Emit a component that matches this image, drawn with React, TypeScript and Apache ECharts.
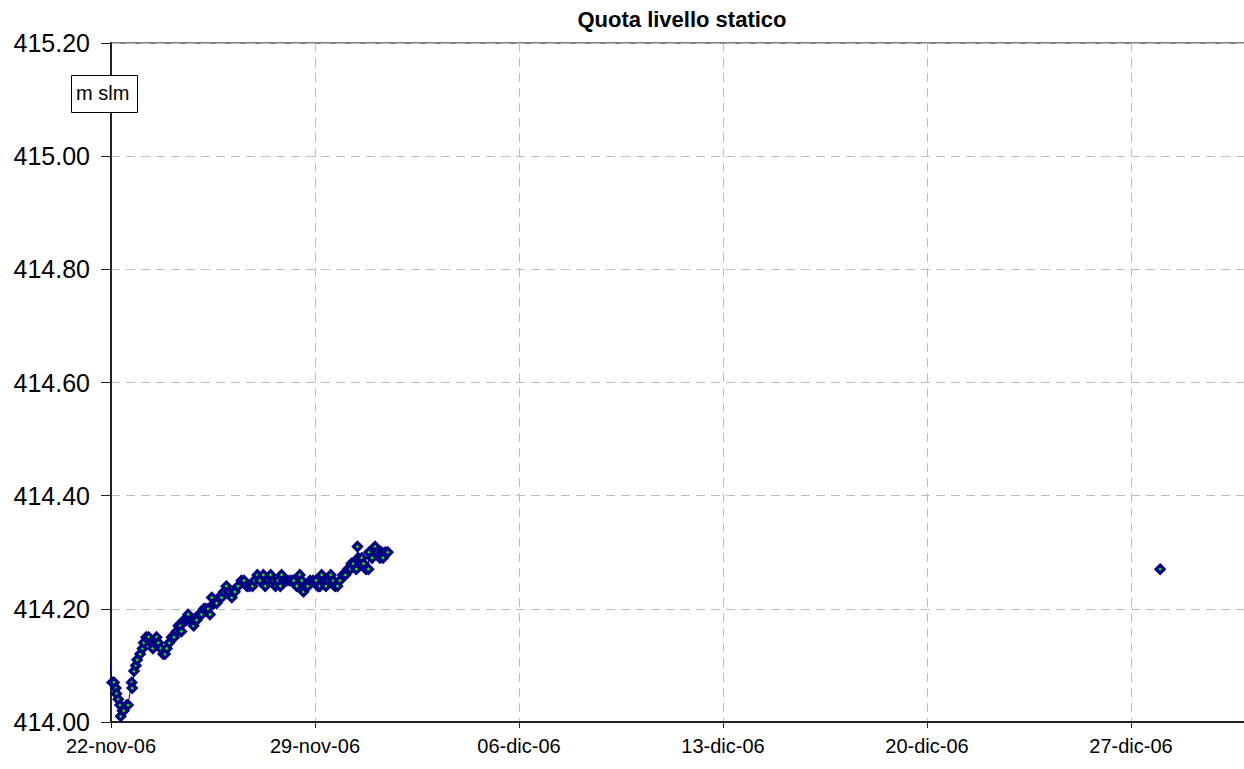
import React, { useEffect, useRef } from "react";
import * as echarts from "echarts";

// Hours elapsed since 22-nov-06 00:00
const hours = [
  1, 2.5, 4, 4.5, 6, 7.5, 8, 9.5, 10.5, 13,
  14, 17, 17.5, 19, 20.5, 21.5, 24, 26, 27, 29,
  31, 32.5, 34.5, 36, 37.5, 39, 41, 43, 44.5, 46,
  48, 50, 52, 54, 55.5, 57, 58, 60, 62, 63.5,
  65.5, 68, 69, 70.5, 72.5, 74.5, 76.5, 78, 80, 81.5,
  83, 85, 87, 89, 91, 93, 95, 97, 99.5, 101,
  102, 104.5, 107.5, 109.5, 112, 114, 116.5, 118, 120.5, 122.5,
  125.5, 127, 129.5, 131.5, 133.5, 135.5, 137.5, 139.5, 140.5, 142.5,
  145, 147, 149, 150.5, 153, 155.5, 157, 158.5, 160, 162,
  164, 166.5, 169, 170.5, 172, 173.5, 175.5, 177, 179, 181,
  183, 184.5, 186.5, 188.5, 191, 193, 195, 197, 198, 199.5,
  202, 203, 203.5, 205, 206.5, 208, 210, 212, 212.5, 215,
  217.5, 219, 221.5, 223, 224, 226, 228,
];

// Static level (m slm)
const levels = [
  414.07, 414.07, 414.06, 414.05, 414.04, 414.03, 414.01, 414.02, 414.02, 414.03,
  414.03, 414.07, 414.06, 414.09, 414.10, 414.11, 414.12, 414.13, 414.14, 414.15,
  414.15, 414.14, 414.13, 414.14, 414.15, 414.14, 414.13, 414.12, 414.12, 414.13,
  414.14, 414.15, 414.15, 414.16, 414.17, 414.17, 414.16, 414.18, 414.18, 414.19,
  414.18, 414.17, 414.18, 414.18, 414.19, 414.19, 414.20, 414.20, 414.20, 414.19,
  414.22, 414.21, 414.21, 414.22, 414.22, 414.23, 414.24, 414.23, 414.22, 414.23,
  414.23, 414.24, 414.25, 414.25, 414.24, 414.24, 414.24, 414.25, 414.26, 414.25,
  414.26, 414.24, 414.25, 414.26, 414.25, 414.24, 414.25, 414.24, 414.26, 414.25,
  414.25, 414.25, 414.25, 414.25, 414.24, 414.26, 414.25, 414.23, 414.24, 414.24,
  414.25, 414.25, 414.25, 414.24, 414.24, 414.26, 414.25, 414.24, 414.25, 414.26,
  414.25, 414.24, 414.24, 414.25, 414.26, 414.26, 414.27, 414.27, 414.28, 414.28,
  414.27, 414.31, 414.29, 414.28, 414.29, 414.28, 414.27, 414.27, 414.30, 414.29,
  414.31, 414.30, 414.29, 414.30, 414.29, 414.30, 414.30,
];

// Reading just before the axis start (only its connecting line is visible)
const leadHour = -4;
const leadLevel = 414.16;

// Isolated later reading (28-dic-06 00:00)
const lateHours = [864];
const lateLevels = [414.27];

const title = "Quota livello statico";
const unitLabel = "m slm";
const monthNames = ["gen", "feb", "mar", "apr", "mag", "giu", "lug", "ago", "set", "ott", "nov", "dic"];
const startDate = Date.UTC(2006, 10, 22);
const xMinHours = 0;
const xMaxHours = 960;
const xStepHours = 168;
const yMin = 414.0;
const yMax = 415.2;
const yStep = 0.2;

const FONT = "'Liberation Sans', Arial, Helvetica, sans-serif";

function fmtDate(h: number): string {
  if (Math.round(h) % xStepHours !== 0) return "";
  const d = new Date(startDate + h * 3600000);
  const dd = String(d.getUTCDate()).padStart(2, "0");
  const yy = String(d.getUTCFullYear() % 100).padStart(2, "0");
  return `${dd}-${monthNames[d.getUTCMonth()]}-${yy}`;
}

export default function App() {
  const ref = useRef<HTMLDivElement>(null);
  useEffect(() => {
    if (!ref.current) return;
    const chart = echarts.init(ref.current, null, { renderer: "svg" });
    const mainData = hours.map((h, i) => [h, levels[i]]);
    const lateData = lateHours.map((h, i) => [h, lateLevels[i]]);
    const navy = "#000080";
    const markerStyle = {
      color: "#00ff00",
      borderColor: navy,
      borderWidth: 3.2,
    };
    chart.setOption({
      animation: false,
      backgroundColor: "#ffffff",
      textStyle: { fontFamily: FONT },
      title: {
        text: title,
        left: 677,
        top: 3,
        textAlign: "center",
        textStyle: { fontFamily: FONT, fontSize: 22, fontWeight: "bold", color: "#000" },
      },
      grid: {
        left: 111,
        top: 43,
        bottom: 47,
        right: 23.3,
        show: true,
        borderColor: "#808080",
        borderWidth: 2,
        backgroundColor: "transparent",
      },
      xAxis: {
        type: "value",
        min: xMinHours,
        max: xMaxHours,
        interval: xStepHours,
        axisLine: { show: true, lineStyle: { color: "#222", width: 2 } },
        axisTick: { show: true, inside: false, length: 6, lineStyle: { color: "#222", width: 1 } },
        axisLabel: {
          formatter: (v: number) => fmtDate(v),
          fontFamily: FONT,
          fontSize: 20,
          color: "#000",
          margin: 14,
          showMaxLabel: false,
        },
        splitLine: { show: true, lineStyle: { color: "#bdbdbd", width: 1, type: [9, 6] } },
      },
      yAxis: {
        type: "value",
        min: yMin,
        max: yMax,
        interval: yStep,
        axisLine: { show: true, lineStyle: { color: "#222", width: 2 } },
        axisTick: { show: true, inside: false, length: 10, lineStyle: { color: "#222", width: 1 } },
        axisLabel: {
          formatter: (v: number) => v.toFixed(2),
          fontFamily: FONT,
          fontSize: 25,
          color: "#000",
          margin: 21,
        },
        splitLine: { show: true, lineStyle: { color: "#bdbdbd", width: 1, type: [9, 6] } },
      },
      graphic: [
        {
          type: "rect",
          left: 71,
          top: 75,
          z: 100,
          shape: { x: 0, y: 0, width: 66, height: 37 },
          style: { fill: "#ffffff", stroke: "#000000", lineWidth: 1 },
        },
        {
          type: "text",
          left: 76,
          top: 83,
          z: 101,
          style: {
            text: unitLabel,
            fill: "#000",
            font: `20px ${FONT}`,
          },
        },
      ],
      series: [
        {
          type: "line",
          name: "lead",
          data: [[leadHour, leadLevel], mainData[0]],
          showSymbol: false,
          clip: false,
          silent: true,
          lineStyle: { color: navy, width: 1 },
          z: 1,
        },
        {
          type: "line",
          name: "Quota livello statico",
          data: mainData,
          symbol: "diamond",
          symbolSize: 8,
          showSymbol: true,
          lineStyle: { color: navy, width: 1 },
          itemStyle: markerStyle,
          z: 2,
        },
        {
          type: "line",
          name: "Quota 28-dic",
          data: lateData,
          symbol: "diamond",
          symbolSize: 8,
          showSymbol: true,
          lineStyle: { color: navy, width: 1 },
          itemStyle: markerStyle,
          z: 2,
        },
      ],
    });
    return () => chart.dispose();
  }, []);
  return (
    <div
      ref={ref}
      style={{ position: "fixed", left: 0, top: 0, width: 1300, height: 769, background: "#fff" }}
    />
  );
}
